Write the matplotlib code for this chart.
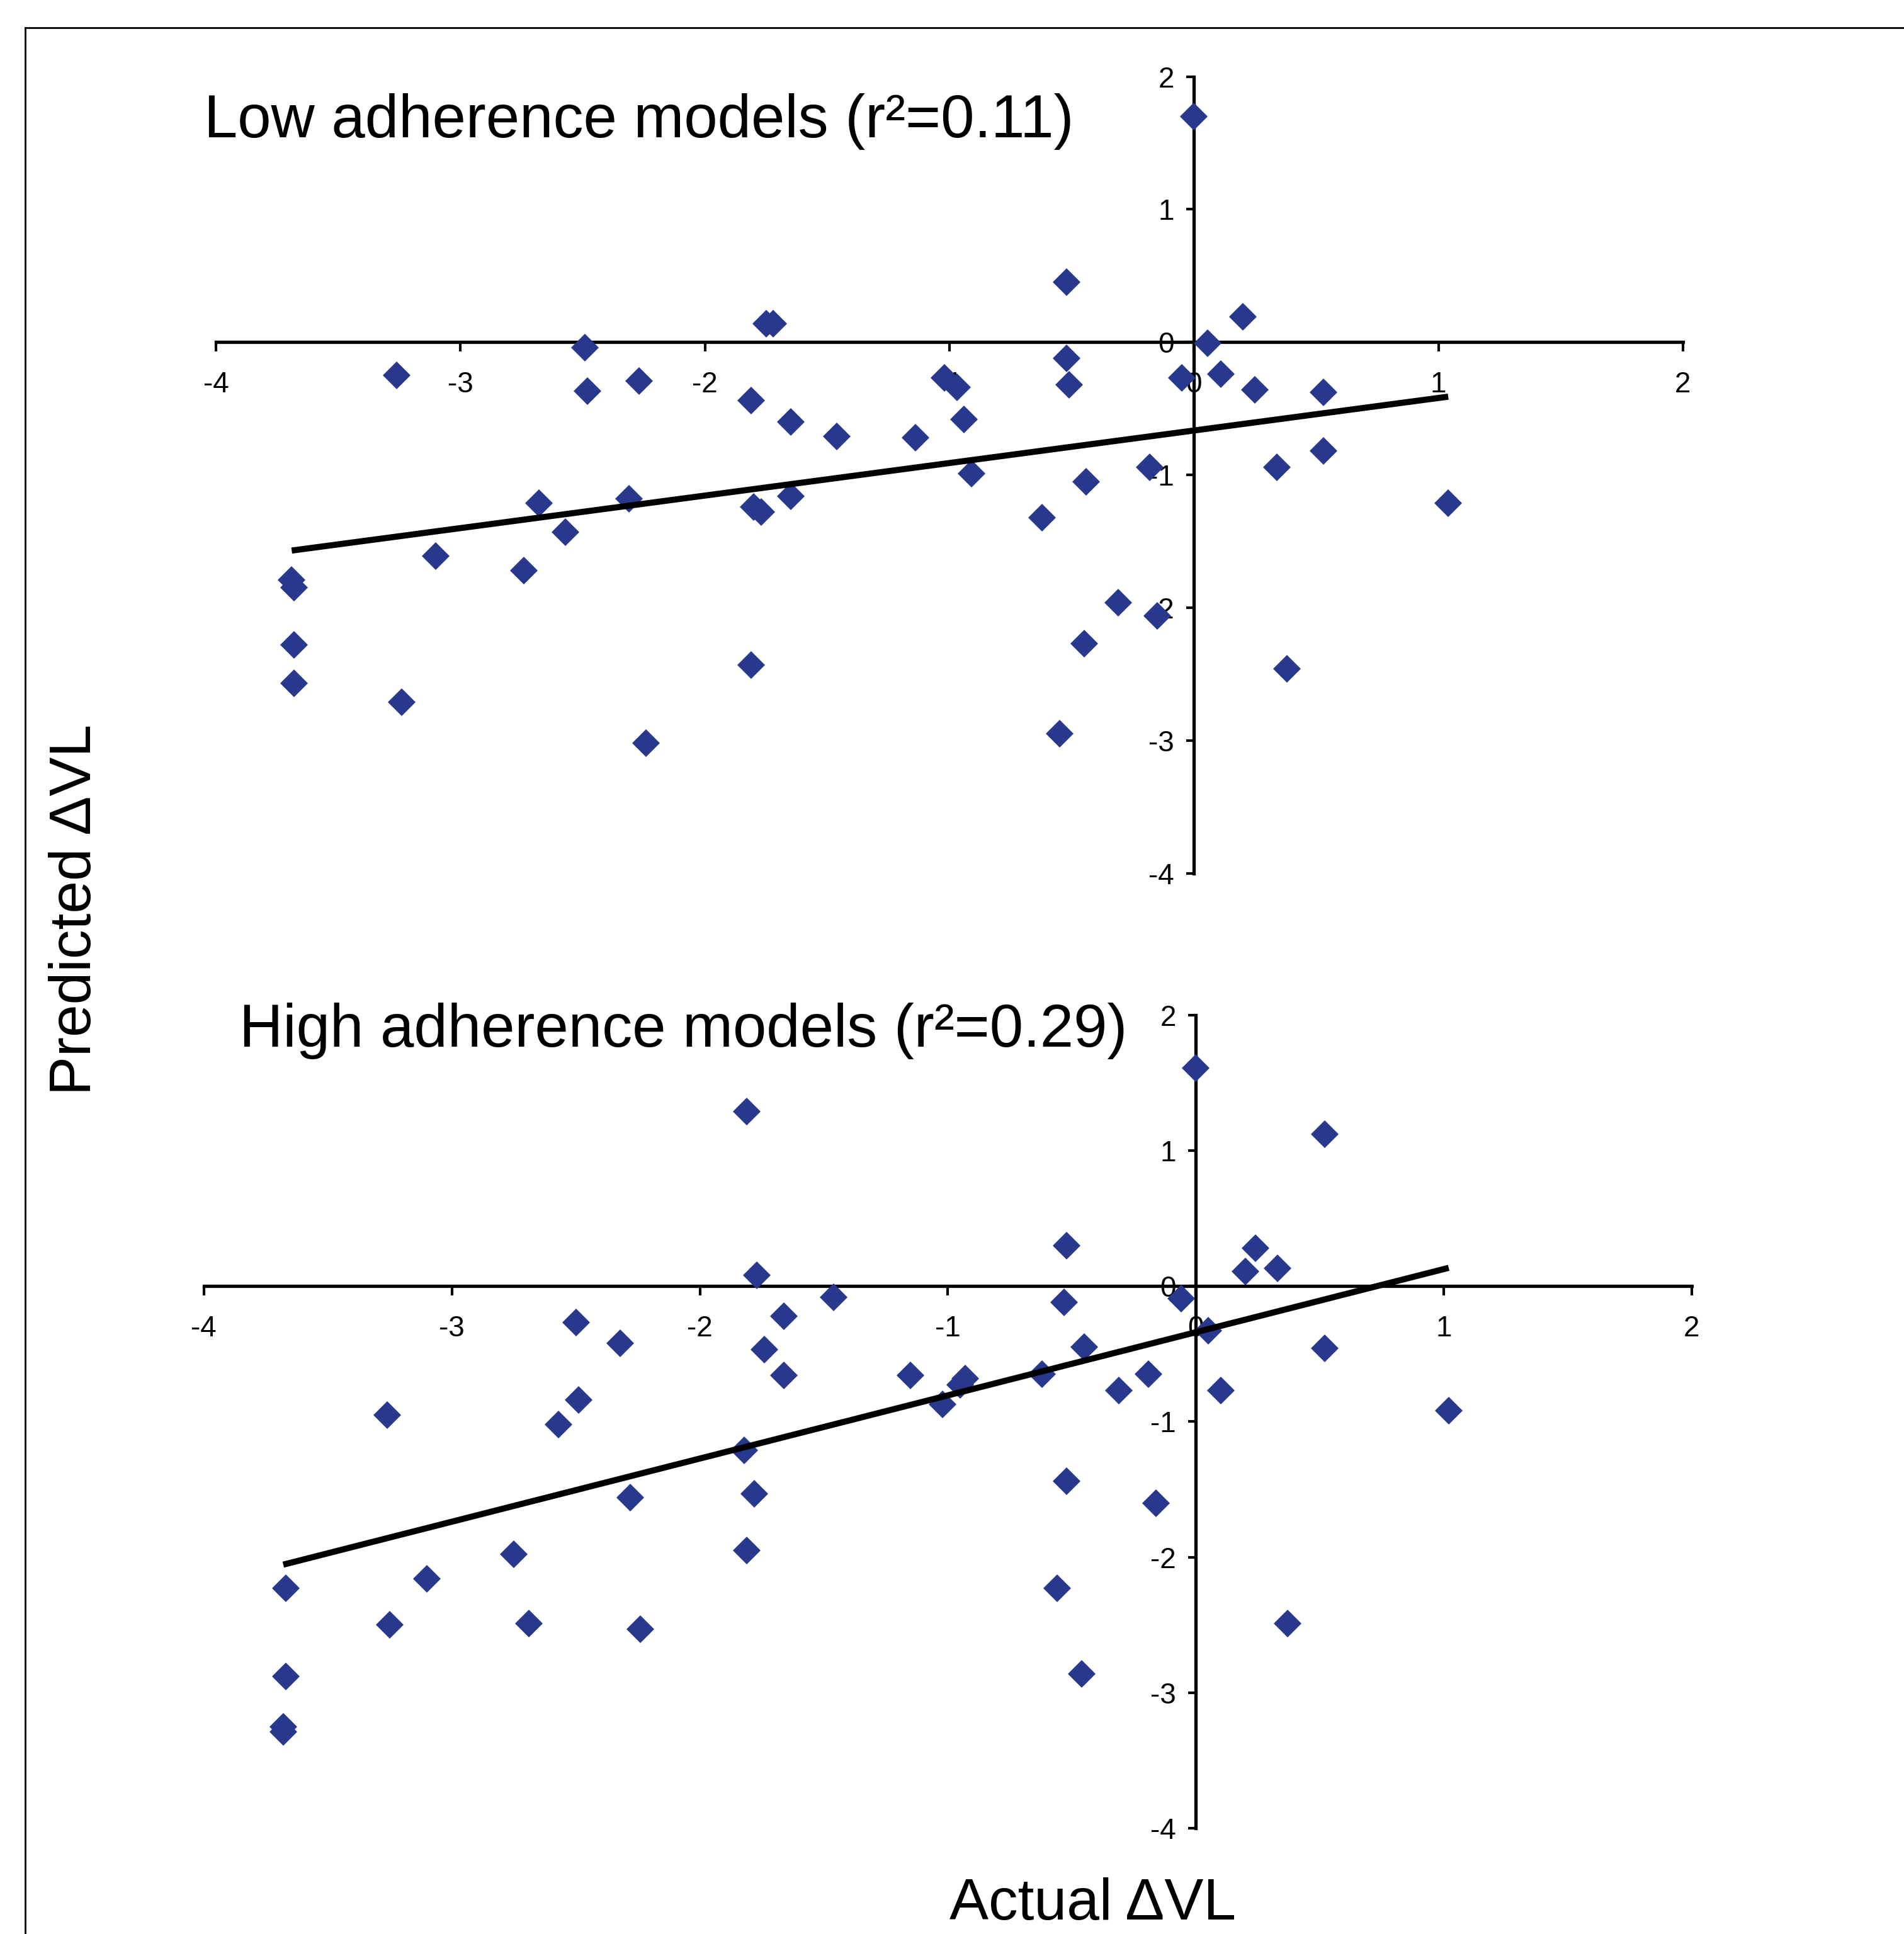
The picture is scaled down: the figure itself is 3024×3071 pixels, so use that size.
import matplotlib.pyplot as plt
import numpy as np
from matplotlib.lines import Line2D

plt.rcParams['axes.unicode_minus'] = False

# data (actual vs predicted change in viral load)
low_actual = [0.00, -0.52, -1.75, -1.72, 0.20, 0.055, -2.49, -0.52, -3.26, 0.11,
              -0.05, -1.02, -0.97, -2.27, -2.48, -0.51, 0.25, 0.53, -1.81, -1.65,
              -0.94, -1.46, -1.14, 0.53, -0.18, 0.34, -0.91, -0.44, -2.68, -2.31,
              -1.80, -1.77, -1.65, 1.04, -0.62, -2.57, -3.10, -2.74, -3.69, -3.68,
              -0.31, -0.15, -3.68, -0.45, -1.81, 0.38, -3.68, -3.24, -2.24, -0.55]
low_pred = [1.70, 0.45, 0.14, 0.14, 0.19, -0.01, -0.04, -0.12, -0.25, -0.24,
            -0.27, -0.27, -0.34, -0.29, -0.37, -0.32, -0.36, -0.38, -0.44, -0.60,
            -0.58, -0.71, -0.72, -0.82, -0.94, -0.94, -0.99, -1.05, -1.21, -1.18,
            -1.24, -1.28, -1.16, -1.21, -1.32, -1.43, -1.61, -1.72, -1.79, -1.85,
            -1.96, -2.06, -2.28, -2.27, -2.43, -2.46, -2.57, -2.71, -3.02, -2.95]

high_actual = [0.00, -1.81, 0.52, -0.52, 0.24, 0.20, 0.33, -1.77, -1.46, -0.06,
               -0.53, -1.66, -2.50, 0.05, -2.32, -1.74, 0.52, -0.45, -1.66, -1.15,
               -0.62, -0.19, -0.93, -0.95, -0.31, 0.10, -1.02, -2.49, -3.26, 1.02,
               -2.57, -1.82, -0.52, -1.78, -2.28, -0.16, -1.81, -2.75, -3.10, -3.67,
               -0.56, -3.25, -2.69, -2.24, 0.37, -0.46, -3.67, -3.68, -3.68]
high_pred = [1.61, 1.29, 1.12, 0.30, 0.28, 0.11, 0.13, 0.08, -0.08, -0.09,
             -0.12, -0.22, -0.27, -0.33, -0.42, -0.47, -0.46, -0.45, -0.66, -0.66,
             -0.65, -0.65, -0.68, -0.73, -0.77, -0.77, -0.87, -0.84, -0.95, -0.92,
             -1.02, -1.21, -1.44, -1.53, -1.56, -1.60, -1.95, -1.98, -2.16, -2.23,
             -2.23, -2.50, -2.49, -2.53, -2.49, -2.86, -2.88, -3.25, -3.29]

# trend lines (slope, intercept) as drawn
low_fit = (0.245, -0.665)
high_fit = (0.466, -0.34)

ticks = [-4, -3, -2, -1, 0, 1, 2]
tick_labels = ['-4', '-3', '-2', '-1', '0', '1', '2']

marker_color = '#28388c'
tick_font = ['Liberation Sans Narrow', 'Liberation Sans', 'DejaVu Sans']
text_font = ['Liberation Sans', 'DejaVu Sans']

fig = plt.figure(figsize=(30.24, 30.71), dpi=100)


def panel(rect, xs, ys, fit):
    ax = fig.add_axes(rect)
    ax.plot(xs, ys, linestyle='none', marker='D', markersize=22,
            color=marker_color, markeredgewidth=0, zorder=2.6)
    xl = np.array([min(xs), max(xs)])
    ax.plot(xl, fit[0] * xl + fit[1], color='black', lw=7, zorder=3,
            solid_capstyle='butt')
    ax.set_xlim(-4, 2)
    ax.set_ylim(-4, 2)
    ax.spines['left'].set_position(('data', 0))
    ax.spines['bottom'].set_position(('data', 0))
    ax.spines['top'].set_visible(False)
    ax.spines['right'].set_visible(False)
    for s in ('left', 'bottom'):
        ax.spines[s].set_linewidth(3.8)
    ax.set_xticks(ticks)
    ax.set_xticklabels(tick_labels)
    ax.set_yticks(ticks)
    ax.set_yticklabels(tick_labels)
    ax.tick_params(axis='x', direction='out', length=11, width=3, pad=22)
    ax.tick_params(axis='y', direction='out', length=8.5, width=3, pad=14)
    for lab in ax.get_xticklabels() + ax.get_yticklabels():
        lab.set_family(tick_font)
        lab.set_fontsize(33)
    ax.patch.set_alpha(0)
    return ax


panel([0.1134, 0.5484, 0.7705, 0.4120], low_actual, low_pred, low_fit)
panel([0.1071, 0.0547, 0.7814, 0.4204], high_actual, high_pred, high_fit)

fig.text(324 / 3024, 0.929, 'Low adherence models (r\u00b2=0.11)',
         fontsize=69, family=text_font, va='baseline', ha='left')
fig.text(380 / 3024, 0.4588, 'High adherence models (r\u00b2=0.29)',
         fontsize=69, family=text_font, va='baseline', ha='left')
fig.text(0.0397, 0.5298, 'Predicted \u0394VL', rotation=90,
         fontsize=67, family=text_font, va='center', ha='center')
fig.text(0.574, 0.0075, 'Actual \u0394VL',
         fontsize=67, family=text_font, va='baseline', ha='center')

# outer frame (only top and left edges are visible in the crop)
fx = 40 / 3024
fy = 1 - 44 / 3071
fig.add_artist(Line2D([fx, fx], [-0.01, fy], transform=fig.transFigure,
                      color='black', lw=2))
fig.add_artist(Line2D([fx, 1.01], [fy, fy], transform=fig.transFigure,
                      color='black', lw=2))

fig.savefig('out.png', dpi=100, facecolor='white')
